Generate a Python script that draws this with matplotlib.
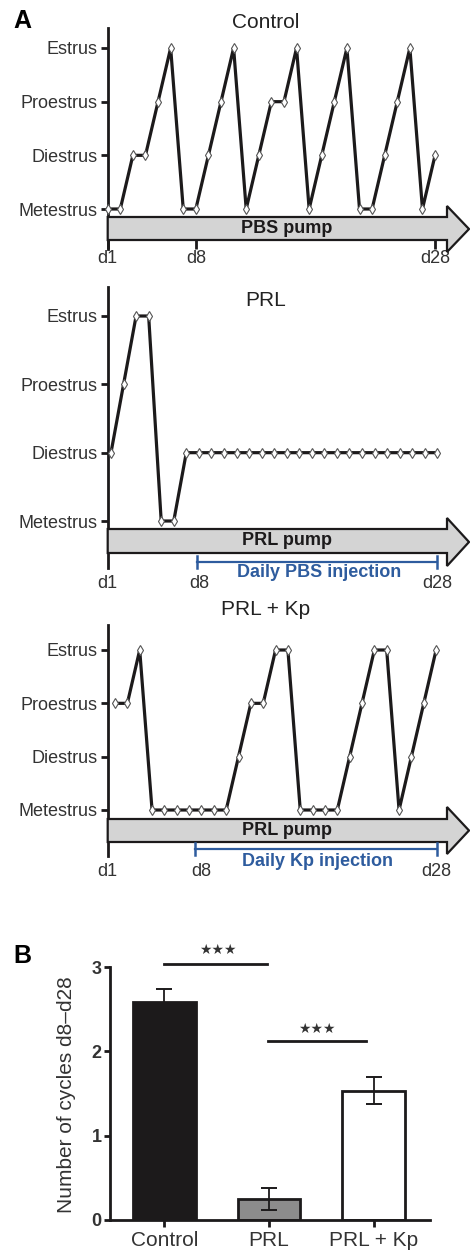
import numpy as np
import matplotlib
matplotlib.use("Agg")
import matplotlib.pyplot as plt
from matplotlib.patches import Polygon
from matplotlib.lines import Line2D

plt.rcParams["font.family"] = ["Liberation Sans", "DejaVu Sans"]

# estrous stage per day: 0 Metestrus, 1 Diestrus, 2 Proestrus, 3 Estrus
states = ["Metestrus", "Diestrus", "Proestrus", "Estrus"]
day_labels = ["d1", "d8", "d28"]
control_cycle = [0, 0, 1, 1, 2, 3, 0, 0, 1, 2, 3, 0, 1, 2, 2, 3, 0, 1, 2, 3, 0, 0, 1, 2, 3, 0, 1]
prl_cycle = [1, 2, 3, 3, 0, 0, 1, 1, 1, 1, 1, 1, 1, 1, 1, 1, 1, 1, 1, 1, 1, 1, 1, 1, 1, 1, 1]
prl_kp_cycle = [2, 2, 3, 0, 0, 0, 0, 0, 0, 0, 1, 2, 2, 3, 3, 0, 0, 0, 0, 1, 2, 3, 3, 0, 1, 2, 3]

groups = ["Control", "PRL", "PRL + Kp"]
cycles_mean = [2.59, 0.25, 1.53]
cycles_sem = [0.15, 0.13, 0.16]

W, H = 470, 1256
BLUE = "#2e5c9e"
INK = "#1c1a1b"

fig = plt.figure(figsize=(W / 100, H / 100), dpi=100)


def box(l, t, r, b):
    return [l / W, 1 - b / H, (r - l) / W, (b - t) / H]


def fxy(x, y):
    return (x / W, 1 - y / H)


def cycle_panel(values, title, title_y, top, bottom, y_est, y_met, x0, step,
                arrow_y, pump, inj=None, inj_y=None, label_pad=2):
    left, right = 107.7, 462
    ax = fig.add_axes(box(left, top, right, bottom))
    unit = (y_met - y_est) / 3
    ax.set_ylim(-(bottom - y_met) / unit, 3 + (y_est - top) / unit)
    xmin = -(x0 - left) / step
    ax.set_xlim(xmin, (right - x0) / step)
    x = np.arange(len(values))
    ax.plot(x, values, color=INK, lw=2.3, marker="d", ms=5.5, mfc="white",
            mec="#555555", mew=0.8, clip_on=False, zorder=3)
    for s in ["top", "right", "bottom"]:
        ax.spines[s].set_visible(False)
    ax.spines["left"].set_linewidth(2)
    ax.spines["left"].set_color(INK)
    ax.set_yticks(range(4), states)
    ax.tick_params(axis="y", length=5, width=2, color=INK, labelsize=13, pad=2)
    ax.set_xticks([xmin, 7, 26], day_labels)
    if inj is None:
        ax.tick_params(axis="x", direction="in", length=6.5, width=2, color=INK,
                       labelsize=13, pad=label_pad)
    else:
        ax.tick_params(axis="x", length=0, labelsize=13, pad=label_pad)
    for lab in ax.get_yticklabels() + ax.get_xticklabels():
        lab.set_color("#333333")

    fig.text(*fxy(266, title_y), title, ha="center", va="center", fontsize=15, color="#222222")

    s_top, s_bot, h_top, h_bot = arrow_y
    pts = [(left, s_top), (447, s_top), (447, h_top), (469, (h_top + h_bot) / 2),
           (447, h_bot), (447, s_bot), (left, s_bot)]
    fig.add_artist(Polygon([fxy(*p) for p in pts], closed=True, transform=fig.transFigure,
                           fc="#d4d4d4", ec=INK, lw=1.6, zorder=2))
    fig.text(*fxy(287, (s_top + s_bot) / 2), pump, ha="center", va="center",
             fontsize=13, fontweight="bold", color=INK, zorder=3)

    if inj is not None:
        bx0, bx1, by, ty = inj_y
        fig.add_artist(Line2D([bx0 / W, bx1 / W], [1 - by / H] * 2, color=BLUE, lw=1.6))
        for bx in (bx0, bx1):
            fig.add_artist(Line2D([bx / W] * 2, [1 - (by - 6) / H, 1 - (by + 6) / H],
                                  color=BLUE, lw=1.8))
        fig.text(*fxy((bx0 + bx1) / 2 + 2, ty), inj, ha="center", va="center",
                 fontsize=13, fontweight="bold", color=BLUE)
    return ax


cycle_panel(control_cycle, "Control", 22, 28, 249, 48, 209, 107.7, 12.59,
            (217, 240, 206, 252), "PBS pump", label_pad=1)
cycle_panel(prl_cycle, "PRL", 300, 287, 568, 316, 521, 111, 12.55,
            (529, 553, 518, 566), "PRL pump", "Daily PBS injection",
            (197, 437, 562, 573), label_pad=5)
cycle_panel(prl_kp_cycle, "PRL + Kp", 610, 625, 856, 650, 810, 115, 12.35,
            (819, 842, 807, 854), "PRL pump", "Daily Kp injection",
            (195, 437, 849, 862), label_pad=5)

fig.text(*fxy(22, 21), "A", ha="center", va="center", fontsize=18, fontweight="bold")
fig.text(*fxy(22, 956), "B", ha="center", va="center", fontsize=18, fontweight="bold")

# panel B bars
ax = fig.add_axes(box(110, 967, 430, 1220))
xb = np.arange(len(groups))
ax.bar(xb, cycles_mean, width=0.6, color=[INK, "#8c8c8c", "white"],
       edgecolor=INK, linewidth=2, yerr=cycles_sem,
       error_kw=dict(ecolor=INK, elinewidth=1.3, capsize=6, capthick=1.4))
ax.set_xlim(-0.52, 2.54)
ax.set_ylim(0, 3)
for s in ["top", "right"]:
    ax.spines[s].set_visible(False)
for s in ["left", "bottom"]:
    ax.spines[s].set_linewidth(2)
    ax.spines[s].set_color(INK)
ax.set_yticks([0, 1, 2, 3])
ax.set_xticks(xb, groups)
ax.tick_params(axis="y", length=4.5, width=2, color=INK, labelsize=13, pad=1.5)
ax.tick_params(axis="x", length=5, width=2, color=INK, labelsize=15, pad=3)
for lab in ax.get_yticklabels():
    lab.set_fontweight("bold")
    lab.set_color("#333333")
for lab in ax.get_xticklabels():
    lab.set_color("#333333")
fig.text(*fxy(67, 1095), "Number of cycles d8\u2013d28", rotation=90, ha="center",
         va="center", fontsize=15, color="#333333")

star_kw = dict(ha="center", va="center", fontsize=10, color="#333333",
               family=["DejaVu Sans"])
ax.plot([0, 0.98], [3.04, 3.04], color=INK, lw=2, clip_on=False)
ax.text(0.51, 3.2, "\u2605\u2605\u2605", **star_kw)
ax.plot([0.99, 1.93], [2.12, 2.12], color=INK, lw=2, clip_on=False)
ax.text(1.46, 2.26, "\u2605\u2605\u2605", **star_kw)

fig.savefig("out.png", dpi=100)
